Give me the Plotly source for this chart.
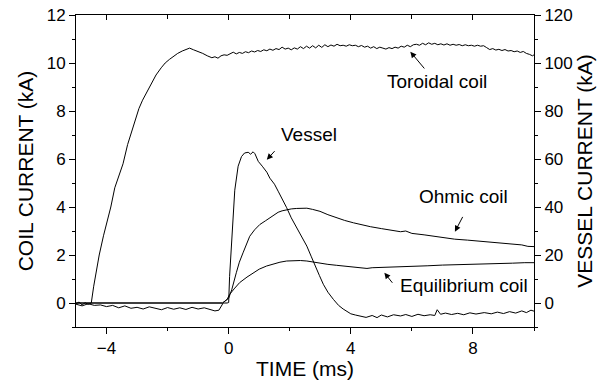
import plotly.graph_objects as go

# ---------------- data ----------------
# Toroidal coil current (kA, left axis)
tor_t = [-5.0, -4.9, -4.8, -4.7, -4.6, -4.5, -4.42, -4.33, -4.24, -4.1, -3.98, -3.86, -3.73, -3.6,
         -3.46, -3.31, -3.18, -3.06, -2.94, -2.82, -2.68, -2.54, -2.38, -2.21, -2.08, -1.94, -1.8,
         -1.67, -1.52, -1.39, -1.28, -1.15, -1.0, -0.85, -0.7, -0.55, -0.45, -0.35, -0.25, -0.15,
         -0.05, 0.05, 0.15, 0.25, 0.35, 0.45, 0.55, 0.65, 0.75, 0.85, 0.95, 1.05, 1.15, 1.25, 1.35,
         1.45, 1.55, 1.65, 1.75, 1.85, 1.95, 2.05, 2.15, 2.25, 2.35, 2.45, 2.55, 2.65, 2.75, 2.85,
         2.95, 3.05, 3.15, 3.25, 3.35, 3.45, 3.55, 3.65, 3.75, 3.85, 3.95, 4.05, 4.15, 4.25, 4.35,
         4.45, 4.55, 4.65, 4.75, 4.85, 4.95, 5.05, 5.15, 5.25, 5.35, 5.45, 5.55, 5.65, 5.75, 5.85,
         5.95, 6.05, 6.15, 6.25, 6.35, 6.45, 6.55, 6.65, 6.75, 6.85, 6.95, 7.05, 7.15, 7.25, 7.35,
         7.45, 7.55, 7.65, 7.75, 7.85, 7.95, 8.05, 8.15, 8.25, 8.35, 8.45, 8.55, 8.65, 8.75, 8.85,
         8.95, 9.05, 9.15, 9.25, 9.35, 9.45, 9.55, 9.65, 9.75, 9.85, 9.95, 10.0]
tor_i = [-0.03, 0.04, -0.08, 0.01, -0.06, 0.0, 0.7, 1.4, 2.0, 2.8, 3.4, 4.0, 4.8, 5.3,
         5.8, 6.6, 7.1, 7.6, 8.1, 8.45, 8.8, 9.15, 9.5, 9.8, 10.0, 10.15, 10.3,
         10.4, 10.5, 10.55, 10.62, 10.55, 10.48, 10.4, 10.3, 10.22, 10.26, 10.2, 10.3, 10.34,
         10.32, 10.4, 10.45, 10.38, 10.44, 10.4, 10.47, 10.43, 10.5, 10.46, 10.52, 10.48, 10.55, 10.51, 10.58,
         10.53, 10.6, 10.56, 10.66, 10.58, 10.62, 10.55, 10.63, 10.58, 10.68, 10.6, 10.7, 10.62, 10.72, 10.63,
         10.74, 10.65, 10.76, 10.68, 10.75, 10.7, 10.78, 10.72, 10.74, 10.7, 10.76, 10.72, 10.74, 10.68, 10.73,
         10.66, 10.7, 10.62, 10.68, 10.6, 10.66, 10.62, 10.58, 10.64, 10.6, 10.66, 10.62, 10.7, 10.66, 10.74,
         10.68, 10.76, 10.78, 10.74, 10.82, 10.76, 10.84, 10.78, 10.82, 10.76, 10.8, 10.75, 10.8, 10.74, 10.78,
         10.74, 10.77, 10.72, 10.76, 10.72, 10.74, 10.7, 10.74, 10.7, 10.72, 10.64, 10.56, 10.6, 10.54, 10.57,
         10.52, 10.56, 10.5, 10.52, 10.47, 10.5, 10.44, 10.48, 10.4, 10.36, 10.3, 10.34]

# Vessel current (kA, right axis)
ves_t = [-5.0, -4.8, -4.6, -4.4, -4.2, -4.0, -3.8, -3.6, -3.4, -3.2, -3.0, -2.8, -2.6, -2.4, -2.2,
         -2.0, -1.8, -1.6, -1.4, -1.2, -1.0, -0.8, -0.6, -0.45, -0.32, -0.25, -0.18, -0.05, 0.0,
         0.03, 0.12, 0.2, 0.31, 0.42, 0.52, 0.64, 0.72, 0.8, 0.86, 0.97, 1.1, 1.25, 1.35, 1.5,
         1.62, 1.75, 1.9, 2.05, 2.23, 2.4, 2.56, 2.7, 2.83, 2.97, 3.1, 3.25, 3.43, 3.6, 3.75,
         3.87, 4.0, 4.15, 4.31, 4.5, 4.7, 4.86, 5.0, 5.2, 5.4, 5.63, 5.8, 6.0, 6.2, 6.4, 6.6,
         6.75, 6.83, 6.94, 7.1, 7.3, 7.5, 7.7, 7.9, 8.1, 8.37, 8.6, 8.8, 9.0, 9.2, 9.4, 9.6,
         9.75, 9.9, 10.0]
ves_i = [-0.5, -1.2, -0.3, -1.0, -0.8, -1.5, -1.0, -2.0, -1.2, -2.2, -1.8, -2.5, -1.6, -2.3, -2.8,
         -1.9, -2.6, -2.0, -2.7, -1.8, -2.5, -2.0, -2.6, -3.3, -3.0, -1.5, 0.0, 0.0, 0.2,
         11.0, 31.0, 47.0, 57.0, 61.0, 62.5, 62.8, 62.0, 63.0, 62.2, 59.0, 57.0, 54.5, 52.0, 49.5,
         46.6, 43.5, 39.7, 35.5, 31.3, 27.5, 23.7, 19.5, 15.4, 11.5, 7.8, 4.5, 1.5, -1.0, -2.5,
         -3.3, -4.5, -5.0, -5.4, -6.0, -5.2, -6.1, -5.0, -5.8, -4.9, -5.4, -4.8, -5.6, -4.7, -5.3, -4.9,
         -5.2, -2.8, -4.7, -4.2, -4.8, -4.3, -4.9, -4.1, -4.6, -4.0, -4.5, -3.8, -4.4, -3.6, -4.2, -3.3,
         -4.0, -3.0, -3.4]

# Ohmic coil current (kA, left axis)
ohm_t = [-5.0, -0.2, 0.0, 0.1, 0.25, 0.35, 0.47, 0.58, 0.69, 0.85, 1.02, 1.2, 1.35, 1.5, 1.62,
         1.75, 1.9, 2.05, 2.23, 2.4, 2.56, 2.75, 2.99, 3.25, 3.54, 3.8, 4.09, 4.35, 4.64, 5.0,
         5.3, 5.63, 5.8, 6.0, 6.4, 6.72, 7.1, 7.4, 7.82, 8.3, 8.6, 8.91, 9.3, 9.6, 9.8, 10.0]
ohm_i = [0.0, 0.0, 0.2, 0.55, 1.26, 1.7, 2.09, 2.45, 2.78, 3.05, 3.27, 3.42, 3.55, 3.68, 3.78,
         3.84, 3.89, 3.92, 3.94, 3.96, 3.95, 3.9, 3.82, 3.68, 3.55, 3.44, 3.34, 3.26, 3.18, 3.1,
         3.04, 2.97, 3.0, 2.9, 2.84, 2.78, 2.71, 2.66, 2.62, 2.56, 2.53, 2.49, 2.45, 2.42, 2.36, 2.35]

# Equilibrium coil current (kA, left axis)
equ_t = [-5.0, -0.2, -0.05, 0.03, 0.2, 0.36, 0.6, 0.8, 1.0, 1.24, 1.45, 1.68, 1.9, 2.12, 2.35,
         2.56, 2.8, 2.99, 3.25, 3.54, 3.8, 4.09, 4.35, 4.53, 4.7, 5.0, 5.3, 5.63, 6.0, 6.5, 7.0,
         7.4, 7.82, 8.3, 8.8, 9.3, 9.7, 10.0]
equ_i = [0.0, 0.0, 0.15, 0.36, 0.62, 0.85, 1.08, 1.26, 1.41, 1.54, 1.63, 1.7, 1.75, 1.77, 1.77,
         1.75, 1.7, 1.65, 1.61, 1.57, 1.54, 1.51, 1.48, 1.44, 1.47, 1.48, 1.5, 1.51, 1.53, 1.55, 1.58,
         1.59, 1.61, 1.63, 1.65, 1.66, 1.68, 1.68]

x_ticks = [-4, 0, 4, 8]
left_ticks = [0, 2, 4, 6, 8, 10, 12]
right_ticks = [0, 20, 40, 60, 80, 100, 120]

# label texts and positions (data units of x / left y axis)
labels = ["Vessel", "Toroidal coil", "Ohmic coil", "Equilibrium coil"]
label_x = [2.63, 6.81, 7.70, 7.70]
label_y = [7.01, 9.24, 4.45, 0.74]
arrow_head_x = [1.25, 5.95, 7.41, 5.10]
arrow_head_y = [5.97, 10.47, 2.97, 1.26]
arrow_tail_x = [1.55, 6.45, 7.69, 5.40]
arrow_tail_y = [6.39, 9.71, 3.65, 0.78]

# ---------------- figure ----------------
FONT = "Arial, Liberation Sans, Helvetica, sans-serif"
line = dict(color="black", width=1)

fig = go.Figure()
fig.add_trace(go.Scatter(x=tor_t, y=tor_i, mode="lines", line=line, showlegend=False))
fig.add_trace(go.Scatter(x=ohm_t, y=ohm_i, mode="lines", line=line, showlegend=False))
fig.add_trace(go.Scatter(x=equ_t, y=equ_i, mode="lines", line=line, showlegend=False))
fig.add_trace(go.Scatter(x=ves_t, y=ves_i, mode="lines", line=line, yaxis="y2", showlegend=False))
# invisible trace to activate the top (mirror) x axis
fig.add_trace(go.Scatter(x=[-5, 10], y=[None, None], mode="lines", xaxis="x2",
                         showlegend=False, hoverinfo="skip"))

for txt, lx, ly in zip(labels, label_x, label_y):
    fig.add_annotation(x=lx, y=ly, xref="x", yref="y", text=txt, showarrow=False,
                       font=dict(family=FONT, size=19, color="black"))
for hx, hy, tx, ty in zip(arrow_head_x, arrow_head_y, arrow_tail_x, arrow_tail_y):
    fig.add_annotation(x=hx, y=hy, xref="x", yref="y", ax=tx, ay=ty, axref="x", ayref="y",
                       text="", showarrow=True, arrowhead=2, arrowsize=1.2, arrowwidth=1,
                       arrowcolor="black")

axis_common = dict(showgrid=False, zeroline=False, showline=True, linecolor="black",
                   linewidth=1, tickcolor="black", tickwidth=1, automargin=False,
                   tickfont=dict(family=FONT, size=17, color="black"))

fig.update_layout(
    width=603, height=380,
    margin=dict(l=76, r=69, t=15, b=53),
    paper_bgcolor="white", plot_bgcolor="white",
    font=dict(family=FONT, color="black"),
    xaxis=dict(range=[-5, 10], tickvals=x_ticks, ticks="outside", ticklen=6,
               minor=dict(dtick=2, tick0=0, ticks="outside", ticklen=3, tickcolor="black"),
               title=dict(text="TIME (ms)", font=dict(family=FONT, size=21), standoff=2),
               **axis_common),
    xaxis2=dict(range=[-5, 10], overlaying="x", side="top", anchor="y", tickvals=x_ticks,
                ticks="inside", ticklen=5, showticklabels=False,
                minor=dict(dtick=2, tick0=0, ticks="inside", ticklen=4, tickcolor="black"),
                **axis_common),
    yaxis=dict(range=[-1, 12], tickvals=left_ticks, ticks="outside", ticklen=6,
               minor=dict(dtick=1, tick0=0, ticks="outside", ticklen=3, tickcolor="black"),
               title=dict(text="COIL CURRENT (kA)", font=dict(family=FONT, size=21), standoff=7),
               **axis_common),
    yaxis2=dict(range=[-10, 120], overlaying="y", side="right", anchor="x", tickvals=right_ticks,
                ticks="outside", ticklen=6,
                minor=dict(dtick=10, tick0=0, ticks="outside", ticklen=3, tickcolor="black"),
                title=dict(text="VESSEL CURRENT (kA)", font=dict(family=FONT, size=21), standoff=2),
                **axis_common),
)

fig.write_html("out.html", config={"displayModeBar": False},
               post_script="document.body.style.margin='0px';document.body.style.overflow='hidden';")
